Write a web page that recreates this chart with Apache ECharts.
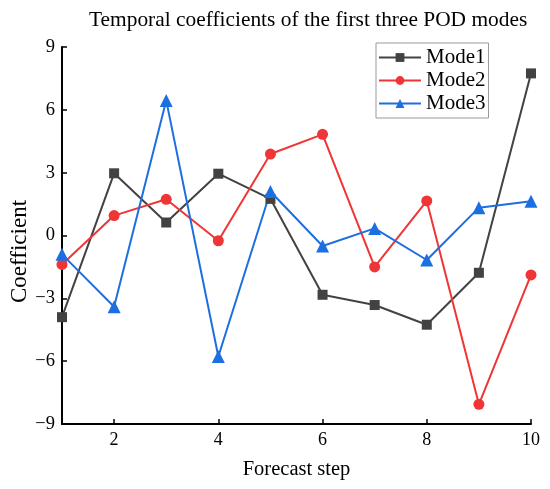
<!DOCTYPE html>
<html>
<head>
<meta charset="utf-8">
<script src="https://cdn.jsdelivr.net/npm/echarts@6/dist/echarts.min.js"></script>
<style>
  html, body { margin: 0; padding: 0; background: #fff; }
  #main { width: 550px; height: 489px; }
</style>
</head>
<body>
<div id="main"></div>
<script>
// forecast steps and temporal coefficients
const steps = [1, 2, 3, 4, 5, 6, 7, 8, 9, 10]
const mode1 = [-3.9, 2.97, 0.62, 2.95, 1.75, -2.83, -3.32, -4.26, -1.78, 7.74]
const mode2 = [-1.38, 0.95, 1.73, -0.25, 3.89, 4.83, -1.5, 1.65, -8.06, -1.88]
const mode3 = [-0.9, -3.4, 6.45, -5.78, 2.1, -0.5, 0.34, -1.17, 1.33, 1.63]
const xTicks = [2, 4, 6, 8, 10]

const font = 'Liberation Serif'
const pairs = (vals) => vals.map((v, i) => [steps[i], v])

const chart = echarts.init(document.getElementById('main'))

const makeSeries = (name, data, symbol, size, color) => ({
    name: name,
    type: 'line',
    data: pairs(data),
    symbol: symbol,
    symbolSize: size,
    showSymbol: true,
    color: color,
    lineStyle: { width: 2, color: color },
    itemStyle: { color: color },
    emphasis: { disabled: true },
    z: 3
})

const option = {
    animation: false,
    backgroundColor: '#fff',
    textStyle: { fontFamily: font },
    title: {
        text: 'Temporal coefficients of the first three POD modes',
        left: 84,
        top: 5,
        textStyle: { fontFamily: font, fontSize: 21.4, fontWeight: 'normal', color: '#000' }
    },
    legend: {
        orient: 'vertical',
        left: 376,
        top: 43,
        borderColor: '#999',
        borderWidth: 1,
        padding: [4, 3, 4, 2],
        itemWidth: 42,
        itemHeight: 11,
        itemGap: 2,
        textStyle: { fontFamily: font, fontSize: 21, color: '#000' },
        data: ['Mode1', 'Mode2', 'Mode3']
    },
    grid: { left: 62, right: 19, top: 47, bottom: 65, containLabel: false, outerBoundsMode: 'none' },
    xAxis: {
        type: 'value',
        min: 1,
        max: 10,
        name: 'Forecast step',
        nameLocation: 'middle',
        nameGap: 35,
        nameMoveOverlap: false,
        nameTextStyle: { fontFamily: font, fontSize: 20.5, color: '#000' },
        splitLine: { show: false },
        axisLine: { onZero: false, lineStyle: { color: '#000', width: 2 } },
        axisTick: { inside: true, length: 5, customValues: xTicks, lineStyle: { color: '#000', width: 1.5 } },
        axisLabel: { customValues: xTicks, margin: 7, fontFamily: font, fontSize: 18, color: '#000' }
    },
    yAxis: {
        type: 'value',
        min: -9,
        max: 9,
        interval: 3,
        name: 'Coefficient',
        nameLocation: 'middle',
        nameGap: 31,
        nameMoveOverlap: false,
        nameTextStyle: { fontFamily: font, fontSize: 23, color: '#000', padding: [0, 32, 0, 0] },
        splitLine: { show: false },
        axisLine: { show: true, onZero: false, lineStyle: { color: '#000', width: 2 } },
        axisTick: { show: true, inside: true, length: 5, lineStyle: { color: '#000', width: 1.5 } },
        axisLabel: {
            margin: 7,
            fontFamily: font,
            fontSize: 18.5,
            color: '#000',
            formatter: (v) => String(v).replace('-', '\u2212')
        }
    },
    series: [
        makeSeries('Mode1', mode1, 'rect', 10, '#424242'),
        makeSeries('Mode2', mode2, 'circle', 11, '#ef3535'),
        makeSeries('Mode3', mode3, 'triangle', 13, '#1c6fe0')
    ]
}

chart.setOption(option)
</script>
</body>
</html>
